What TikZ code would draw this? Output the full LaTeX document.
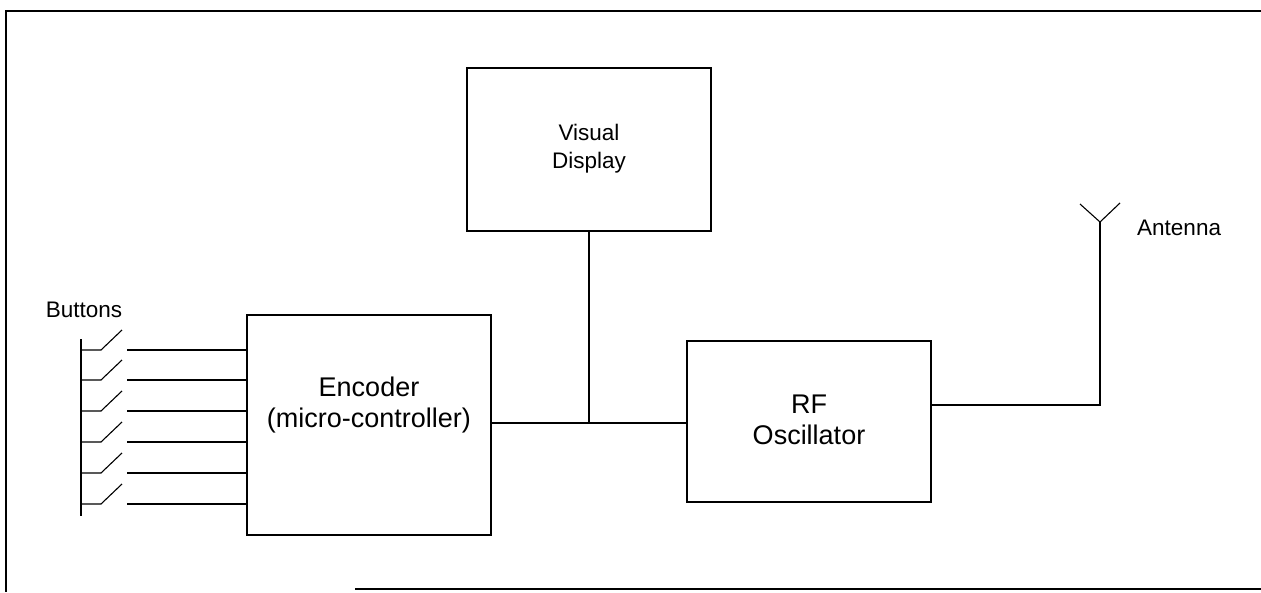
\documentclass[tikz,border=0pt]{standalone}
\usepackage{fontspec}
\setmainfont{Liberation Sans}
\begin{document}
\begin{tikzpicture}[x=1pt,y=-1pt,
  wire/.style={line width=1.1pt,black},
  blockbox/.style={draw,line width=1.1pt,inner sep=0pt,anchor=center},
  bigtxt/.style={font=\fontsize{27}{31}\selectfont,align=center,inner sep=0pt},
  smalltxt/.style={font=\fontsize{22.5}{28}\selectfont,align=center,inner sep=0pt}]
\useasboundingbox (0,0) rectangle (1261,592);
% frame
\draw[wire] (1261,11) -- (6,11) -- (6,592);
\draw[wire] (355,589) -- (1261,589);
% blocks
\node[blockbox,minimum width=244pt,minimum height=163pt] (vd) at (589,149.5) {};
\node[smalltxt] (vdt) at (589,149) {Visual\\Display};
\node[blockbox,minimum width=244pt,minimum height=220pt] (enc) at (369,425) {};
\node[bigtxt] (enct) at (369,405) {Encoder\\(micro-controller)};
\node[blockbox,minimum width=244pt,minimum height=161pt] (rf) at (809,421.5) {};
\node[bigtxt] (rft) at (809,420) {RF\\Oscillator};
% bus
\coordinate (j) at (589,423);
\draw[wire] (enc.east |- j) -- (rf.west |- j);
\draw[wire] (vd.south) -- (j);
% antenna
\coordinate (ab) at (1100,222);
\coordinate (al) at (1080,204);
\coordinate (ar) at (1120,203);
\draw[wire] (rf.east |- 0,405) -- (1100,405) -- (ab);
\draw[wire] (al) -- (ab) -- (ar);
\node[smalltxt,anchor=west] (ant) at (1137,228) {Antenna};
% buttons
\node[smalltxt] (btn) at (84,310) {Buttons};
\coordinate (bt) at (81,339);
\coordinate (bb) at (81,516);
\draw[wire] (bt) -- (bb);
\foreach \yy in {350,380,411,442,473,504}{
  \draw[wire] (81,\yy) -- (101,\yy) -- (122,\yy-20);
  \draw[wire] (127,\yy) -- (enc.west |- 0,\yy);
}
\end{tikzpicture}
\end{document}
